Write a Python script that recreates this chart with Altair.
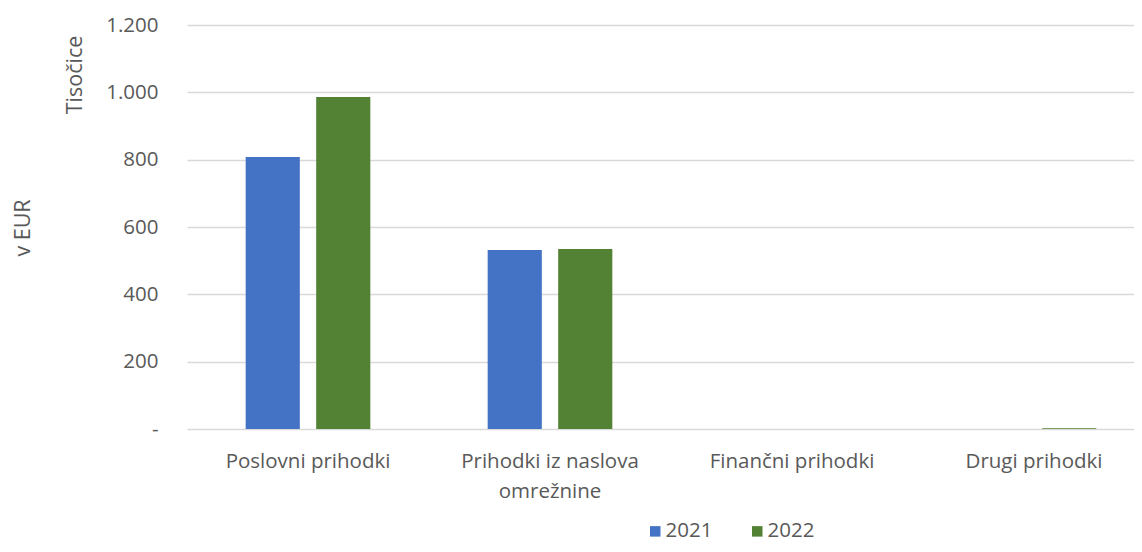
import altair as alt
import pandas as pd

categories = ["Poslovni prihodki", "Prihodki iz naslova\nomrežnine", "Finančni prihodki", "Drugi prihodki"]
years = ["2021", "2022"]
values_2021 = [808, 532, 0, 0]
values_2022 = [986, 535, 0, 2]
y_ticks = [0, 200, 400, 600, 800, 1000, 1200]

rows = []
for c, a, b in zip(categories, values_2021, values_2022):
    rows.append({"kat": c, "leto": "2021", "v": a})
    rows.append({"kat": c, "leto": "2022", "v": b})
df = pd.DataFrame(rows)

FONT = "Open Sans"
GRAY = "#595959"
FS = 20.5

bars = alt.Chart(df).mark_bar().encode(
    x=alt.X("kat:N", sort=categories,
            scale=alt.Scale(paddingInner=0, paddingOuter=0, range=[0, 968]),
            axis=alt.Axis(title=None, labelAngle=0, domain=False, ticks=False,
                          labelPadding=22, labelFontSize=FS, labelColor=GRAY,
                          labelFont=FONT, labelLineHeight=30, labelBaseline="top",
                          labelExpr="split(datum.label, '\\n')")),
    xOffset=alt.XOffset("leto:N", sort=years,
                        scale=alt.Scale(paddingInner=0.232, paddingOuter=0.832)),
    y=alt.Y("v:Q", scale=alt.Scale(domain=[0, 1200], nice=False),
            axis=alt.Axis(title=None, values=y_ticks, domain=False, ticks=False,
                          labelPadding=29, labelFontSize=FS, labelColor=GRAY,
                          labelFont=FONT, gridColor="#d9d9d9", gridWidth=1.3,
                          labelExpr="datum.value == 0 ? '-' : replace(format(datum.value, ','), ',', '.')")),
    color=alt.Color("leto:N", sort=years,
                    scale=alt.Scale(domain=years, range=["#4472C4", "#548235"]),
                    legend=alt.Legend(title=None, orient="none", direction="horizontal",
                                      legendX=458, legendY=496, symbolType="square",
                                      symbolSize=110, symbolStrokeWidth=0,
                                      labelFontSize=FS, labelColor=GRAY, labelFont=FONT,
                                      columnPadding=34, labelOffset=0)),
)

t1 = alt.Chart(pd.DataFrame({"t": ["Tisočice"]})).mark_text(
    angle=270, fontSize=21.5, font=FONT, color=GRAY, align="center", baseline="middle"
).encode(text="t:N", x=alt.value(-111), y=alt.value(50))

t2 = alt.Chart(pd.DataFrame({"t": ["v EUR"]})).mark_text(
    angle=270, fontSize=21.5, font=FONT, color=GRAY, align="center", baseline="middle"
).encode(text="t:N", x=alt.value(-163), y=alt.value(203))

chart = alt.layer(bars, t1, t2).properties(
    width=947, height=404,
    autosize=alt.AutoSizeParams(type="none"),
    padding={"left": 179, "top": 17, "right": 0, "bottom": 115},
).configure_view(stroke=None)

chart.save("out.html", embed_options={"renderer": "svg", "actions": False})
